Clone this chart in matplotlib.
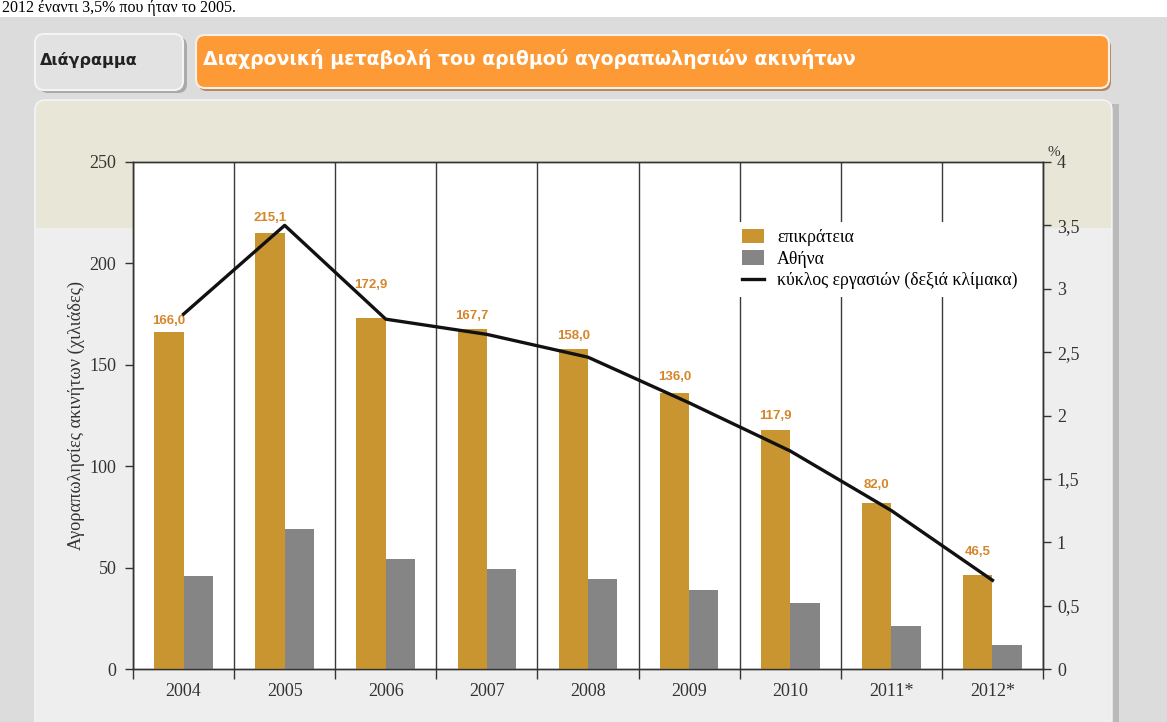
import matplotlib.pyplot as plt
import numpy as np
from matplotlib.patches import FancyBboxPatch, Rectangle
from matplotlib.ticker import FixedLocator, FuncFormatter

# αγοραπωλησίες ακινήτων (χιλιάδες) και κύκλος εργασιών (% ΑΕΠ)
years = ['2004', '2005', '2006', '2007', '2008', '2009', '2010', '2011*', '2012*']
country = [166.0, 215.1, 172.9, 167.7, 158.0, 136.0, 117.9, 82.0, 46.5]
athens = [46.0, 69.0, 54.0, 49.5, 44.5, 39.0, 32.5, 21.0, 12.0]
turnover = [2.80, 3.50, 2.76, 2.64, 2.46, 2.10, 1.72, 1.25, 0.70]

# απόσταση ετικέτας από την κορυφή της μπάρας (points), ώστε να μην πέφτει πάνω στη γραμμή
label_lift = [3.5, 6.5, 20, 5, 4.5, 7, 6, 8.5, 12]

GOLD = '#c99530'
GREY = '#858585'
LABEL = '#d5862a'
ORANGE = '#fe9a35'
SERIF = ['Liberation Serif', 'DejaVu Serif']


def comma(v, _pos=None):
    return '{:g}'.format(v).replace('.', ',')


W, H = 1167, 722
fig = plt.figure(figsize=(W / 100, H / 100), dpi=100)
fig.patch.set_facecolor('#dcdcdc')

# φόντο σελίδας σε pixel συντεταγμένες
bg = fig.add_axes([0, 0, 1, 1], zorder=0)
bg.set_xlim(0, W)
bg.set_ylim(H, 0)
bg.axis('off')
bg.add_patch(Rectangle((0, 0), W, 17, facecolor='white', edgecolor='none'))
bg.text(2, 0.5, '2012 έναντι 3,5% που ήταν το 2005.', fontsize=11.5, family=SERIF,
        va='top', ha='left', color='black')

# καρτέλα και μπάρα τίτλου
bg.add_patch(FancyBboxPatch((39, 37), 148, 56, boxstyle='round,pad=0,rounding_size=9',
                            facecolor='#a9a9a9', edgecolor='none'))
bg.add_patch(FancyBboxPatch((35, 34), 148, 56, boxstyle='round,pad=0,rounding_size=9',
                            facecolor='#e2e2e2', edgecolor='#f4f4f4', lw=1.5))
bg.text(40, 60, 'Διάγραμμα', fontsize=11.5, fontweight='bold', family='DejaVu Sans',
        color='#222222', va='center', ha='left')
bg.add_patch(FancyBboxPatch((198, 38), 913, 53, boxstyle='round,pad=0,rounding_size=9',
                            facecolor='#b8865a', edgecolor='none'))
bg.add_patch(FancyBboxPatch((196, 35), 913, 53, boxstyle='round,pad=0,rounding_size=9',
                            facecolor=ORANGE, edgecolor='#f6f0e6', lw=1.5))
bg.text(203, 59, 'Διαχρονική μεταβολή του αριθμού αγοραπωλησιών ακινήτων',
        fontsize=13.6, fontweight='bold', family='DejaVu Sans', color='white',
        va='center', ha='left')

# πάνελ διαγράμματος
bg.add_patch(Rectangle((1112, 104), 7, 640, facecolor='#bababa', edgecolor='none'))
bg.add_patch(FancyBboxPatch((35, 100), 1077, 660, boxstyle='round,pad=0,rounding_size=10',
                            facecolor='#eeeeee', edgecolor='#f6f6f6', lw=1))
bg.add_patch(FancyBboxPatch((36, 101), 1075, 127, boxstyle='round,pad=0,rounding_size=9',
                            facecolor='#e7e6d7', edgecolor='none'))
bg.add_patch(Rectangle((36, 215), 1075, 13, facecolor='#e7e6d7', edgecolor='none'))

# κύριο διάγραμμα
ax = fig.add_axes([133 / W, 53 / H, 910 / W, 507 / H], zorder=2)
ax.set_facecolor('white')
x = np.arange(len(years))
bw = 0.29
ax.bar(x - bw / 2, country, width=bw, color=GOLD, label='επικράτεια', zorder=3)
ax.bar(x + bw / 2, athens, width=bw, color=GREY, label='Αθήνα', zorder=3)
for xi, v, lift in zip(x, country, label_lift):
    ax.annotate('{:.1f}'.format(v).replace('.', ','),
                (xi - bw / 2, v), xytext=(0, lift), textcoords='offset points',
                ha='center', va='bottom', fontsize=9.5, fontweight='bold',
                family='Liberation Sans', color=LABEL, zorder=6)

ax.set_xlim(-0.5, len(years) - 0.5)
ax.set_ylim(0, 250)
ax.set_yticks(np.arange(0, 251, 50))
ax.set_xticks(x)
ax.set_xticklabels(years)
ax.xaxis.set_minor_locator(FixedLocator(np.arange(-0.5, len(years), 1.0)))
ax.tick_params(axis='x', which='major', length=0, pad=10)
ax.tick_params(axis='x', which='minor', length=7, width=1, color='#333333', direction='out')
ax.tick_params(axis='y', length=6, width=1, color='#333333', pad=6)
ax.grid(axis='x', which='minor', color='#3a3a3a', lw=1, zorder=1)
for lbl in ax.get_xticklabels() + ax.get_yticklabels():
    lbl.set_family(SERIF)
    lbl.set_fontsize(13)
    lbl.set_color('#333333')
ax.set_ylabel('Αγοραπωλησίες ακινήτων (χιλιάδες)', family=SERIF, fontsize=13.2,
              color='#333333', labelpad=3)
for s in ax.spines.values():
    s.set_color('#333333')
    s.set_linewidth(1)

# δεξιά κλίμακα: κύκλος εργασιών
ax2 = ax.twinx()
ax2.plot(x, turnover, color='#111111', lw=2.4, zorder=5,
         label='κύκλος εργασιών (δεξιά κλίμακα)')
ax2.set_ylim(0, 4)
ax2.set_yticks(np.arange(0, 4.01, 0.5))
ax2.yaxis.set_major_formatter(FuncFormatter(comma))
ax2.tick_params(axis='y', length=6, width=1, color='#333333', pad=4)
for lbl in ax2.get_yticklabels():
    lbl.set_family(SERIF)
    lbl.set_fontsize(13)
    lbl.set_color('#333333')
for s in ax2.spines.values():
    s.set_color('#333333')
    s.set_linewidth(1)
ax2.text(1.005, 1.005, '%', transform=ax2.transAxes, family=SERIF, fontsize=11,
         color='#333333', ha='left', va='bottom')

h1, l1 = ax.get_legend_handles_labels()
h2, l2 = ax2.get_legend_handles_labels()
leg = ax2.legend(h1 + h2, l1 + l2, loc='upper left', bbox_to_anchor=(0.652, 0.9),
                 frameon=True, facecolor='white', edgecolor='none', framealpha=1,
                 fancybox=False, prop={'family': SERIF, 'size': 12.8},
                 handlelength=1.2, handleheight=0.85, handletextpad=0.75,
                 labelspacing=0.25, borderpad=0.4)
leg.set_zorder(10)

fig.savefig('out.png', dpi=100)
